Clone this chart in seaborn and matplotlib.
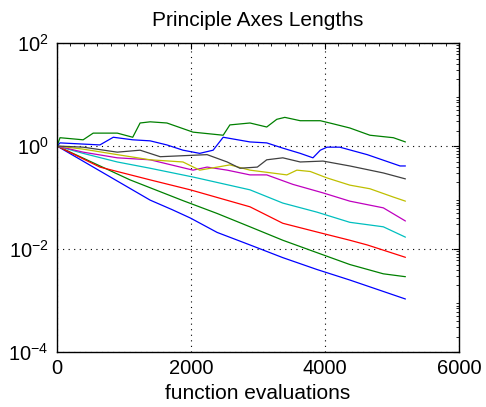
import seaborn as sns
import matplotlib
matplotlib.use("Agg")
import matplotlib.pyplot as plt
import matplotlib.ticker as mticker
import pandas as pd
import numpy as np

# axis lengths per dimension (smallest to largest)
x_blue1 = [0, 870, 1390, 1720, 1990, 2390, 2880, 3370, 3880, 4370, 4870, 5200]
y_blue1 = [1.0, 0.22, 0.089, 0.058, 0.040, 0.021, 0.012, 0.0068, 0.0040, 0.0025, 0.0015, 0.00107]

x_green1 = [0, 1090, 1880, 2390, 2880, 3370, 3880, 4370, 4870, 5200]
y_green1 = [1.0, 0.22, 0.087, 0.049, 0.027, 0.0148, 0.0085, 0.0050, 0.0033, 0.0029]

x_red = [0, 640, 1390, 1990, 2880, 3370, 3880, 4370, 4630, 5200]
y_red = [1.0, 0.39, 0.22, 0.141, 0.066, 0.0316, 0.0214, 0.0148, 0.012, 0.0069]

x_cyan = [0, 390, 900, 1390, 2030, 2880, 3370, 3880, 4370, 4870, 5200]
y_cyan = [1.0, 0.72, 0.49, 0.37, 0.25, 0.141, 0.078, 0.052, 0.033, 0.027, 0.017]

x_mag = [0, 390, 900, 1390, 2030, 2240, 2540, 2880, 3130, 3520, 3970, 4370, 4870, 5200]
y_mag = [1.0, 0.76, 0.59, 0.54, 0.34, 0.39, 0.34, 0.275, 0.275, 0.18, 0.123, 0.085, 0.063, 0.035]

x_yel = [0, 390, 900, 1390, 1880, 2130, 2580, 2880, 3430, 3580, 3780, 4030, 4370, 4670, 5020, 5200]
y_yel = [1.0, 0.87, 0.68, 0.54, 0.49, 0.34, 0.43, 0.34, 0.275, 0.34, 0.32, 0.24, 0.174, 0.148, 0.102, 0.085]

x_blk = [0, 390, 900, 1240, 1540, 2240, 2540, 2730, 2990, 3130, 3370, 3630, 3970, 4370, 4870, 5200]
y_blk = [1.0, 0.95, 0.76, 0.83, 0.62, 0.68, 0.49, 0.37, 0.39, 0.54, 0.59, 0.49, 0.51, 0.41, 0.30, 0.23]

x_blue2 = [0, 45, 640, 840, 1130, 1390, 1640, 1880, 2130, 2330, 2480, 2880, 3130, 3370,
           3630, 3820, 3930, 4030, 4220, 4630, 5120, 5200]
y_blue2 = [1.0, 1.15, 1.05, 1.48, 1.32, 1.26, 1.05, 0.83, 0.72, 0.83, 1.48, 1.2, 1.15, 0.91,
           0.72, 0.59, 0.83, 0.95, 0.95, 0.68, 0.41, 0.41]

x_green2 = [0, 45, 390, 540, 900, 1130, 1240, 1390, 1640, 2030, 2480, 2580, 2880, 3130,
            3280, 3400, 3630, 3930, 4120, 4370, 4670, 5020, 5200]
y_green2 = [1.0, 1.45, 1.32, 1.78, 1.78, 1.48, 2.8, 2.95, 2.8, 1.86, 1.62, 2.57, 2.8, 2.34,
            3.3, 3.6, 3.1, 3.1, 2.7, 2.24, 1.62, 1.45, 1.2]

series = [
    ("1", x_blue1, y_blue1), ("2", x_green1, y_green1), ("3", x_red, y_red),
    ("4", x_cyan, y_cyan), ("5", x_mag, y_mag), ("6", x_yel, y_yel),
    ("7", x_blk, y_blk), ("8", x_blue2, y_blue2), ("9", x_green2, y_green2),
]
colors = ["#0000ff", "#008000", "#ff0000", "#00bfbf", "#bf00bf", "#bfbf00",
          "#404040", "#0000ff", "#008000"]

df = pd.concat([pd.DataFrame({"evals": xs, "length": ys, "dim": name})
                for name, xs, ys in series], ignore_index=True)

sns.set_style("white")
plt.rcParams["font.family"] = ["Liberation Sans", "DejaVu Sans"]
plt.rcParams["mathtext.fontset"] = "custom"
plt.rcParams["mathtext.rm"] = "Liberation Sans"
plt.rcParams["mathtext.it"] = "Liberation Sans"
plt.rcParams["text.color"] = "black"
plt.rcParams["axes.labelcolor"] = "black"

fig = plt.figure(figsize=(4.86, 4.07), dpi=100)
ax = fig.add_axes([0.1173, 0.1351, 0.8272, 0.7592])

sns.lineplot(data=df, x="evals", y="length", hue="dim", palette=colors,
             linewidth=0.9, legend=False, ax=ax, estimator=None, sort=False)

ax.set_yscale("log")
ax.set_xlim(0, 6000)
ax.set_ylim(1e-4, 1e2)
ax.set_xticks([0, 2000, 4000, 6000])
ax.set_yticks([1e-4, 1e-2, 1e0, 1e2])
ax.yaxis.set_major_formatter(mticker.LogFormatterMathtext())
ax.xaxis.set_minor_locator(mticker.MultipleLocator(200))
ax.yaxis.set_minor_locator(mticker.LogLocator(base=10, subs=np.arange(2, 10), numticks=20))
ax.yaxis.set_minor_formatter(mticker.NullFormatter())

ax.grid(True, which="major", linestyle=(0, (1, 4)), color="black", linewidth=0.8)
ax.tick_params(which="both", direction="in", top=True, right=True, labelsize=14.5,
               colors="black")
ax.tick_params(which="major", length=4, width=0.8)
ax.tick_params(which="minor", length=2, width=0.6)
ax.tick_params(axis="x", pad=5)
ax.tick_params(axis="y", pad=6)
for s in ax.spines.values():
    s.set_color("black")
    s.set_linewidth(1.0)

ax.set_xlabel("function evaluations", fontsize=15, labelpad=4, color="black")
ax.set_ylabel("")
ax.set_title("Principle Axes Lengths", fontsize=15, pad=12, color="black")

fig.savefig("out.png", dpi=100)
